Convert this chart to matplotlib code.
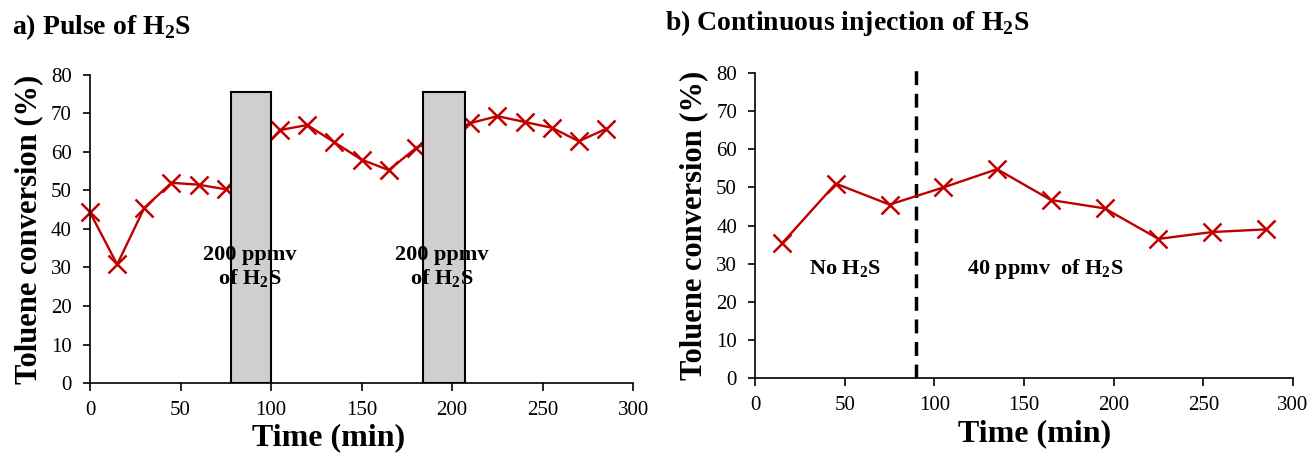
import matplotlib
matplotlib.use("Agg")
import matplotlib.pyplot as plt
from matplotlib.patches import Rectangle

plt.rcParams["font.family"] = ["Liberation Serif", "DejaVu Serif"]
plt.rcParams["mathtext.fontset"] = "custom"
plt.rcParams["mathtext.rm"] = "Liberation Serif"
plt.rcParams["mathtext.bf"] = "Liberation Serif:bold"

# a) pulse of H2S
time_a = [0, 15, 30, 45, 60, 75, 105, 120, 135, 150, 165, 180, 210, 225, 240, 255, 270, 285]
conv_a = [44.3, 30.8, 45.5, 52.0, 51.5, 50.3, 65.7, 67.0, 62.5, 58.0, 55.3, 61.0,
          67.5, 69.3, 67.8, 66.3, 62.8, 66.0]
pulse_start = [78, 184]
pulse_end = [100, 207]
pulse_height = 75.6
pulse_label = "200 ppmv\nof H$_\\mathbf{2}$S"

# b) continuous injection
time_b = [15, 45, 75, 105, 135, 165, 195, 225, 255, 285]
conv_b = [35.3, 51.0, 45.5, 50.0, 54.8, 46.7, 44.5, 36.5, 38.3, 39.0]
switch_time = 90

red = "#C00000"
fig = plt.figure(figsize=(13.12, 4.53), dpi=100)
ax1 = fig.add_axes([0.0686, 0.1545, 0.414, 0.680])
ax2 = fig.add_axes([0.5755, 0.1656, 0.410, 0.673])


def style(ax):
    ax.set_xlim(0, 300)
    ax.set_ylim(0, 80)
    ax.set_xticks(range(0, 301, 50))
    ax.set_yticks(range(0, 81, 10))
    for s in ["top", "right"]:
        ax.spines[s].set_visible(False)
    for s in ["left", "bottom"]:
        ax.spines[s].set_linewidth(1.2)
    ax.tick_params(labelsize=15, width=1.2, direction="out")
    ax.tick_params(axis="x", length=6, pad=7)
    ax.tick_params(axis="y", length=5, pad=8)
    ax.set_xlabel("Time (min)", fontsize=23, fontweight="bold", labelpad=0)
    ax.set_ylabel("Toluene conversion (%)", fontsize=22, fontweight="bold", labelpad=6)


style(ax1)
ax1.xaxis.set_label_coords(0.44, -0.13)
for s, e in zip(pulse_start, pulse_end):
    ax1.add_patch(Rectangle((s, 0), e - s, pulse_height, facecolor="#D0CECE",
                            edgecolor="black", linewidth=1.5, zorder=3))
    ax1.text((s + e) / 2 - 1, 30, pulse_label, ha="center", va="center",
             fontsize=16, fontweight="bold", zorder=4, linespacing=1.1)
ax1.plot(time_a, conv_a, color=red, marker="x", markersize=13, markeredgewidth=1.8,
         linewidth=1.7, zorder=2, clip_on=False)
fig.text(0.009, 0.94, "a) Pulse of H$_\\mathbf{2}$S", fontsize=20, fontweight="bold",
         va="center")

style(ax2)
ax2.xaxis.set_label_coords(0.52, -0.135)
ax2.plot(time_b, conv_b, color=red, marker="x", markersize=13, markeredgewidth=1.8,
         linewidth=1.7, zorder=3)
ax2.plot([switch_time, switch_time], [0, 81.5], color="black", linestyle=(0, (4, 2.5)),
         linewidth=2.5, clip_on=False, zorder=2)
ax2.text(50, 28.5, "No H$_\\mathbf{2}$S", ha="center", va="center",
         fontsize=16, fontweight="bold")
ax2.text(162, 28.5, "40 ppmv  of H$_\\mathbf{2}$S", ha="center", va="center",
         fontsize=16, fontweight="bold")
fig.text(0.5068, 0.95, "b) Continuous injection of H$_\\mathbf{2}$S", fontsize=20,
         fontweight="bold", va="center")

fig.savefig("out.png", dpi=100)
